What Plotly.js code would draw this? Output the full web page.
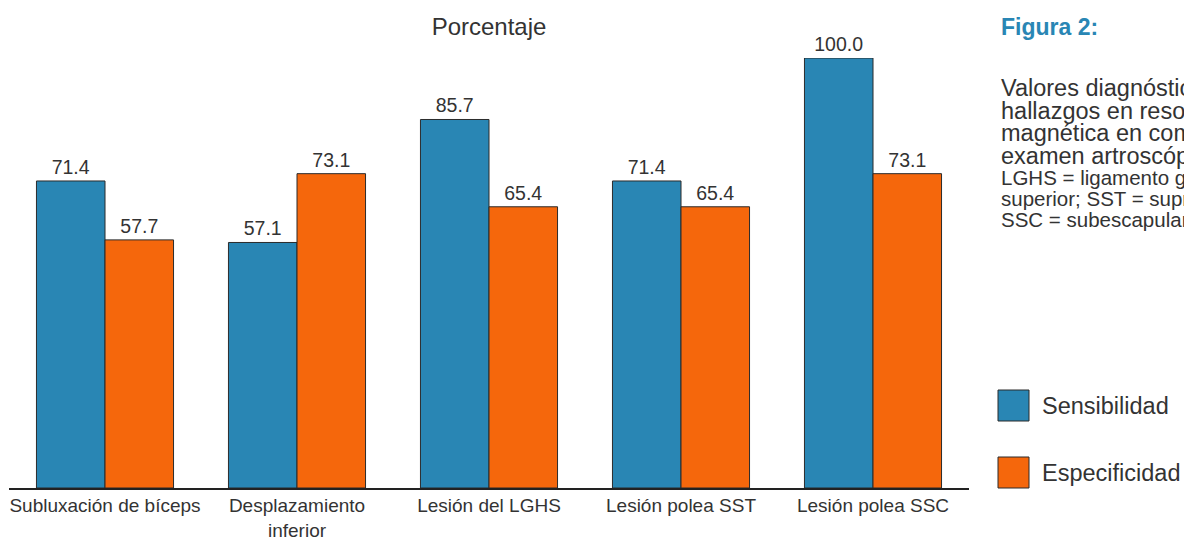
<!DOCTYPE html>
<html>
<head>
<meta charset="utf-8">
<script src="https://cdn.plot.ly/plotly-3.0.1.min.js"></script>
<style>html,body{margin:0;padding:0;background:#fff;}#chart{width:1184px;height:542px;}</style>
</head>
<body>
<div id="chart"></div>
<script>
const categories = ["Subluxación de bíceps", "Desplazamiento<br>inferior", "Lesión del LGHS", "Lesión polea SST", "Lesión polea SSC"];
const sensibilidad = [71.4, 57.1, 85.7, 71.4, 100.0];
const especificidad = [57.7, 73.1, 65.4, 65.4, 73.1];
const seriesNames = ["Sensibilidad", "Especificidad"];
const captionTitle = "Figura 2:";
const captionLines = ["Valores diagnósticos de los", "hallazgos en resonancia", "magnética en comparación con el", "examen artroscópico."];
const captionSmall = ["LGHS = ligamento glenohumeral", "superior; SST = supraespinoso;", "SSC = subescapular."];

const blue = "#2986b4", orange = "#f5670c", ink = "#333333";
const font = "Liberation Sans, Arial, sans-serif";

const mk = (name, vals, color) => ({
  type: "bar", name: name, x: categories, y: vals,
  marker: {color: color, line: {color: "#2b2b2b", width: 1}},
  texttemplate: "%{y:.1f}", textposition: "outside", cliponaxis: false, constraintext: "none",
  textfont: {family: font, size: 19.5, color: ink}, showlegend: false, hoverinfo: "none"
});

const W = 1184, L = 9, R = 215, plotW = W - L - R;
const px = (p) => (p - L) / plotW;   // pixel -> paper x
const H = 542, T = 58, B = 54, plotH = H - T - B;
const py = (p) => 1 - (p - T) / plotH; // pixel -> paper y

const annotations = [];
annotations.push({xref: "paper", yref: "paper", x: px(999), y: py(27), xanchor: "left", yanchor: "middle",
  text: "<b>" + captionTitle + "</b>", showarrow: false, font: {family: font, size: 23, color: blue}});
captionLines.forEach((t, i) => annotations.push({xref: "paper", yref: "paper", x: px(999), y: py(88 + i * 22.5),
  xanchor: "left", yanchor: "middle", text: t, showarrow: false, font: {family: font, size: 23.5, color: ink}}));
captionSmall.forEach((t, i) => annotations.push({xref: "paper", yref: "paper", x: px(999), y: py(177 + i * 21),
  xanchor: "left", yanchor: "middle", text: t, showarrow: false, font: {family: font, size: 20.5, color: ink}}));
const legColors = [blue, orange];
const legY = [405.5, 472.5];
const shapes = [];
seriesNames.forEach((n, i) => {
  shapes.push({type: "rect", xref: "paper", yref: "paper", x0: px(998), x1: px(1029), y0: py(legY[i] - 15.5), y1: py(legY[i] + 15.5),
    fillcolor: legColors[i], line: {color: "#2b2b2b", width: 1}});
  annotations.push({xref: "paper", yref: "paper", x: px(1040), y: py(legY[i]), xanchor: "left", yanchor: "middle",
    text: n, showarrow: false, font: {family: font, size: 23.5, color: ink}});
});

const layout = {
  width: W, height: H,
  margin: {l: L, r: R, t: T, b: B},
  paper_bgcolor: "#fff", plot_bgcolor: "#fff",
  barmode: "group", bargap: 0.286, bargroupgap: 0,
  title: {text: "Porcentaje", xref: "paper", x: 0.5, xanchor: "center", yref: "container", y: 1 - 27 / H, yanchor: "middle",
    font: {family: font, size: 24, color: ink}},
  xaxis: {showgrid: false, showline: true, linecolor: "#222", linewidth: 1.5, ticks: "",
    tickfont: {family: font, size: 19, color: ink}, fixedrange: true},
  yaxis: {range: [0, 100], visible: false, showgrid: false, zeroline: false, fixedrange: true},
  annotations: annotations, shapes: shapes, font: {family: font, color: ink}
};

Plotly.newPlot("chart", [mk(seriesNames[0], sensibilidad, blue), mk(seriesNames[1], especificidad, orange)], layout, {displayModeBar: false, staticPlot: true});
</script>
</body>
</html>
